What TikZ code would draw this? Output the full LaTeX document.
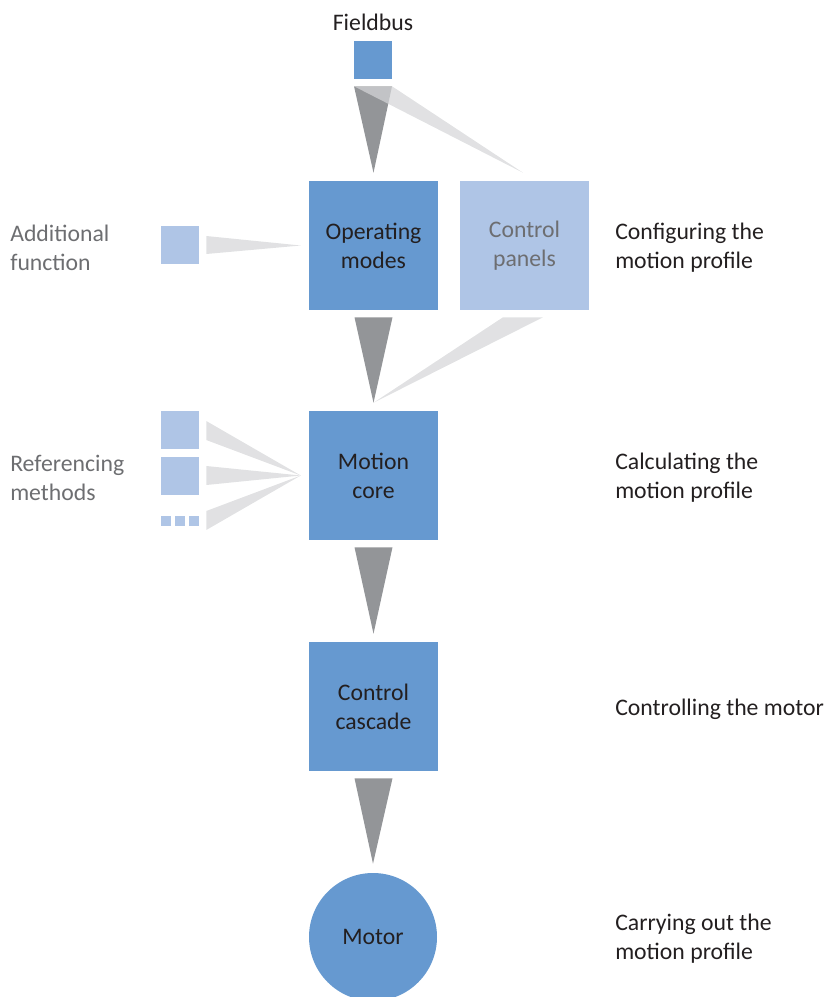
\documentclass[tikz,border=0pt]{standalone}
\usepackage{fontspec}
\setmainfont{Carlito}
\usetikzlibrary{calc}
\definecolor{boxblue}{HTML}{6699D0}
\definecolor{paleblue}{HTML}{AFC5E6}
\definecolor{wedgegray}{HTML}{939598}
\definecolor{wedgelight}{HTML}{D5D6D8}
\definecolor{textdark}{HTML}{231F20}
\definecolor{textgray}{HTML}{6D6E71}
\begin{document}
\begin{tikzpicture}[x=0.75pt, y=-0.75pt,
    font=\fontsize{17.8}{21.75}\selectfont,
    block/.style={rectangle, fill=boxblue, minimum size=96.75pt, inner sep=0pt, align=center, text=textdark},
    paleblock/.style={block, fill=paleblue, text=textgray},
    small/.style={rectangle, fill=paleblue, minimum size=28.5pt, inner sep=0pt},
    tiny/.style={rectangle, fill=paleblue, minimum size=7.5pt, inner sep=0pt},
    side/.style={anchor=west, align=left, inner sep=0pt, text=textdark},
    sidegray/.style={side, text=textgray},
    darkwedge/.style={fill=wedgegray},
    lightwedge/.style={fill=wedgelight, fill opacity=0.72}]
    \useasboundingbox (0,0) rectangle (827,997);
    \node[rectangle, fill=boxblue, minimum size=28.5pt, inner sep=0pt] (fieldbus) at (373,60) {};
    \node[text=textdark] (fblabel) at (373,22) {Fieldbus};
    \node[block] (opmodes) at (373.5,245.5) {Operating\\modes};
    \node[paleblock] (panels) at (524.5,245.5) {Control\\panels};
    \node[block] (core) at (373.5,475.5) {Motion\\core};
    \node[block] (cascade) at (373.5,706.5) {Control\\cascade};
    \node[circle, fill=boxblue, minimum size=96pt, inner sep=0pt, text=textdark] (motor) at (373,937) {Motor};
    \node[small] (addfn) at (180,245) {};
    \node[small] (ref1) at (180,430) {};
    \node[small] (ref2) at (180,476) {};
    \node[tiny] (dots1) at (166,521) {};
    \node[tiny] (dots2) at (180,521) {};
    \node[tiny] (dots3) at (194,521) {};
    \node[sidegray] (addlabel) at (10,248) {Additional\\function};
    \node[sidegray] (reflabel) at (10,478) {Referencing\\methods};
    \node[side] (configlabel) at (615,248) {Configuring the\\motion profile};
    \node[side] (calclabel) at (615,478) {Calculating the\\motion profile};
    \node[side] (ctrllabel) at (615,709) {Controlling the motor};
    \node[side] (carrylabel) at (615,939) {Carrying out the\\motion profile};
    \fill[darkwedge] ($(fieldbus.south)+(-19,7)$) -- ($(fieldbus.south)+(19,7)$) -- ($(opmodes.north)+(0,-8)$) -- cycle;
    \fill[lightwedge] ($(fieldbus.south)+(-19,7)$) -- ($(fieldbus.south)+(19,7)$) -- ($(panels.north)+(-1.5,-8)$) -- cycle;
    \fill[darkwedge] ($(opmodes.south)+(-19,7)$) -- ($(opmodes.south)+(19,7)$) -- ($(core.north)+(0,-8)$) -- cycle;
    \fill[lightwedge] ($(panels.south)+(-21.5,7)$) -- ($(panels.south)+(18.5,7)$) -- ($(core.north)+(0,-8)$) -- cycle;
    \fill[darkwedge] ($(core.south)+(-19,7)$) -- ($(core.south)+(19,7)$) -- ($(cascade.north)+(0,-8)$) -- cycle;
    \fill[darkwedge] ($(cascade.south)+(-19,7)$) -- ($(cascade.south)+(19,7)$) -- ($(motor.north)+(0,-9)$) -- cycle;
    \fill[lightwedge] ($(addfn.east)+(7,-9)$) -- ($(addfn.east)+(7,9)$) -- ($(opmodes.west)+(-8,0)$) -- cycle;
    \fill[lightwedge] ($(ref1.east)+(7,-9)$) -- ($(ref1.east)+(7,10)$) -- ($(core.west)+(-8,0)$) -- cycle;
    \fill[lightwedge] ($(ref2.east)+(7,-10)$) -- ($(ref2.east)+(7,9)$) -- ($(core.west)+(-8,0)$) -- cycle;
    \fill[lightwedge] ($(dots3.east)+(7,-10)$) -- ($(dots3.east)+(7,9)$) -- ($(core.west)+(-8,0)$) -- cycle;
\end{tikzpicture}
\end{document}
